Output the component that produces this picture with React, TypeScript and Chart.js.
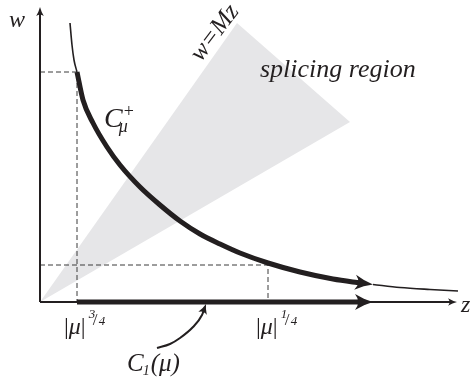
import React, { useEffect, useRef } from 'react';
import { Chart, registerables } from 'chart.js';

Chart.register(...registerables);

// ---- data (z = horizontal, w = vertical) ----
const curveZ = [30, 32, 34, 37, 43, 53, 67, 80, 100, 120, 140, 160, 180, 200, 228, 260, 293, 317, 333, 360, 390, 418];
const curveW = [279, 257, 242, 230, 202, 179, 155, 137, 115, 97, 81, 68, 58, 49, 39, 30, 23, 19.5, 17.5, 14.5, 12.5, 11];
const thickStart = 3; // index where C_mu^+ begins (|mu|^{3/4} point)
const thickEnd = 18; // index of arrow tip

const wedgeZ = [0, 197, 310, 0];
const wedgeW = [0, 279, 180, 0];

const guide1Z = [0, 37, 37];
const guide1W = [230, 230, 0];
const guide2Z = [0, 228, 228];
const guide2W = [37, 37, 0];

const axisZZ = [0, 417];
const axisZW = [0, 0];
const axisWZ = [0, 0];
const axisWW = [0, 295];

const c1Z = [37, 333];
const c1W = [0, 0];

const pointerZ = [117, 130, 140, 153, 162, 166];
const pointerW = [-46, -42, -36, -25, -13, -2];

const INK = '#231f20';
const SERIF = '"Liberation Serif", "Times New Roman", serif';

const pts = (zs: number[], ws: number[]) => zs.map((z, i) => ({ x: z, y: ws[i] }));

function arrowDir(chart: any, index: number) {
  const meta = chart.getDatasetMeta(index);
  const d = meta.data;
  const n = d.length;
  const last = d[n - 1];
  let px = d[n - 2].x;
  let py = d[n - 2].y;
  if (last.cp1x !== undefined && last.cp1y !== undefined) {
    const dx = last.x - last.cp1x;
    const dy = last.y - last.cp1y;
    if (Math.hypot(dx, dy) > 0.5) {
      px = last.cp1x;
      py = last.cp1y;
    }
  }
  const dx = last.x - px;
  const dy = last.y - py;
  const len = Math.hypot(dx, dy) || 1;
  return { tx: last.x, ty: last.y, ux: dx / len, uy: dy / len };
}

const arrowPlugin = {
  id: 'arrowHeads',
  beforeDatasetDraw(chart: any, args: any) {
    const ds = chart.data.datasets[args.index];
    if (!ds.arrow) return;
    const { tx, ty, ux, uy } = arrowDir(chart, args.index);
    const { L, W } = ds.arrow;
    const lw = ds.borderWidth;
    const back = (lw / 2 + 0.5) * (L / W) + 1;
    const half = lw / 2 + 1;
    const nx = -uy;
    const ny = ux;
    const ctx = chart.ctx;
    ctx.save();
    ctx.beginPath();
    ctx.rect(0, 0, chart.width, chart.height);
    const fx = tx + ux * 2;
    const fy = ty + uy * 2;
    const bx = tx - ux * back;
    const by = ty - uy * back;
    ctx.moveTo(fx + nx * half, fy + ny * half);
    ctx.lineTo(bx + nx * half, by + ny * half);
    ctx.lineTo(bx - nx * half, by - ny * half);
    ctx.lineTo(fx - nx * half, fy - ny * half);
    ctx.closePath();
    ctx.clip('evenodd');
  },
  afterDatasetDraw(chart: any, args: any) {
    const ds = chart.data.datasets[args.index];
    if (!ds.arrow) return;
    const ctx = chart.ctx;
    ctx.restore();
    const { tx, ty, ux, uy } = arrowDir(chart, args.index);
    const { L, W } = ds.arrow;
    ctx.save();
    ctx.translate(tx, ty);
    ctx.rotate(Math.atan2(uy, ux));
    ctx.fillStyle = ds.borderColor;
    ctx.beginPath();
    ctx.moveTo(0, 0);
    ctx.quadraticCurveTo(-L * 0.5, W * 0.3, -L, W);
    ctx.quadraticCurveTo(-L * 0.65, 0, -L, -W);
    ctx.quadraticCurveTo(-L * 0.5, -W * 0.3, 0, 0);
    ctx.closePath();
    ctx.fill();
    ctx.restore();
  },
};

const labelPlugin = {
  id: 'labels',
  afterDraw(chart: any) {
    const ctx = chart.ctx;
    const xs = chart.scales.x;
    const ys = chart.scales.y;
    const X = (z: number) => xs.getPixelForValue(z);
    const Y = (w: number) => ys.getPixelForValue(w);
    ctx.save();
    ctx.fillStyle = INK;
    ctx.textBaseline = 'alphabetic';
    ctx.textAlign = 'left';
    const put = (t: string, x: number, y: number, font: string) => {
      ctx.font = font;
      ctx.fillText(t, x, y);
      return x + ctx.measureText(t).width;
    };
    const it = (s: number) => `italic ${s}px ${SERIF}`;
    const up = (s: number) => `${s}px ${SERIF}`;

    // axis names
    ctx.textAlign = 'center';
    put('w', X(-23), Y(275), it(24));
    ctx.textAlign = 'left';
    put('z', X(421), Y(-10), it(24));

    // splicing region
    put('splicing region', X(220), Y(225), it(26));

    // w=Mz along the wedge edge
    ctx.save();
    ctx.translate(X(175), Y(269));
    ctx.rotate((-53 * Math.PI) / 180);
    ctx.textAlign = 'center';
    ctx.textBaseline = 'middle';
    ctx.font = it(25);
    ctx.fillText('w=Mz', 0, 0);
    ctx.restore();

    // C_mu^+
    let x = put('C', X(64), Y(175), it(28));
    put('+', x + 1, Y(185), up(18));
    put('μ', x - 4, Y(170), it(18));

    // |mu|^{p/4} tick labels
    const tick = (left: number, num: string) => {
      const base = Y(-32);
      let cx = put('|', left, base, up(24));
      cx = put('μ', cx, base, it(24));
      cx = put('|', cx, base, up(24));
      put(num, cx + 3, base - 16, it(13));
      put('/', cx + 7, base - 9, up(17));
      put('4', cx + 13, base - 9, it(13));
    };
    tick(X(24), '3');
    tick(X(216), '1');

    // C_1(mu)
    x = put('C', X(87), Y(-69), it(25));
    x = put('1', x - 1, Y(-73), it(14));
    put('(μ)', x + 1, Y(-69), it(25));

    ctx.restore();
  },
};

export default function App() {
  const ref = useRef<HTMLCanvasElement | null>(null);
  useEffect(() => {
    if (!ref.current) return;
    const line = (data: any[], extra: any) => ({
      data,
      showLine: true,
      pointRadius: 0,
      borderColor: INK,
      backgroundColor: INK,
      fill: false,
      borderCapStyle: 'butt',
      ...extra,
    });
    const chart = new Chart(ref.current, {
      type: 'scatter',
      data: {
        datasets: [
          line(pts(wedgeZ, wedgeW), {
            borderWidth: 0,
            borderColor: 'rgba(0,0,0,0)',
            backgroundColor: '#e6e6e8',
            fill: 'shape',
            order: 10,
          }),
          line(pts(guide1Z, guide1W), { borderWidth: 1, borderColor: '#3a3a3a', borderDash: [5, 3], order: 9 }),
          line(pts(guide2Z, guide2W), { borderWidth: 1, borderColor: '#3a3a3a', borderDash: [5, 3], order: 9 }),
          line(pts(axisZZ, axisZW), { borderWidth: 2, arrow: { L: 9, W: 3.8 }, order: 8 }),
          line(pts(axisWZ, axisWW), { borderWidth: 2, arrow: { L: 9, W: 3.8 }, order: 8 }),
          line(pts(curveZ.slice(0, thickStart + 1), curveW.slice(0, thickStart + 1)), {
            borderWidth: 1.6,
            cubicInterpolationMode: 'monotone',
            order: 6,
          }),
          line(pts(curveZ.slice(thickEnd), curveW.slice(thickEnd)), {
            borderWidth: 1.6,
            cubicInterpolationMode: 'monotone',
            order: 6,
          }),
          line(pts(curveZ.slice(thickStart, thickEnd + 1), curveW.slice(thickStart, thickEnd + 1)), {
            borderWidth: 5,
            cubicInterpolationMode: 'monotone',
            arrow: { L: 18, W: 7.5 },
            order: 5,
          }),
          line(pts(c1Z, c1W), { borderWidth: 5, arrow: { L: 18, W: 8 }, order: 4 }),
          line(pts(pointerZ, pointerW), {
            borderWidth: 2,
            cubicInterpolationMode: 'monotone',
            arrow: { L: 10, W: 4.5 },
            order: 3,
          }),
        ],
      },
      options: {
        animation: false,
        responsive: false,
        devicePixelRatio: 1,
        events: [],
        layout: { padding: 0 },
        plugins: { legend: { display: false }, tooltip: { enabled: false } },
        scales: {
          x: { type: 'linear', min: -40, max: 430, display: false },
          y: { type: 'linear', min: -77, max: 302, display: false },
        },
      } as any,
      plugins: [arrowPlugin, labelPlugin],
    } as any);
    return () => chart.destroy();
  }, []);
  return (
    <div style={{ position: 'absolute', left: 0, top: 0, width: 470, height: 379, background: '#fff' }}>
      <canvas ref={ref} width={470} height={379} />
    </div>
  );
}
